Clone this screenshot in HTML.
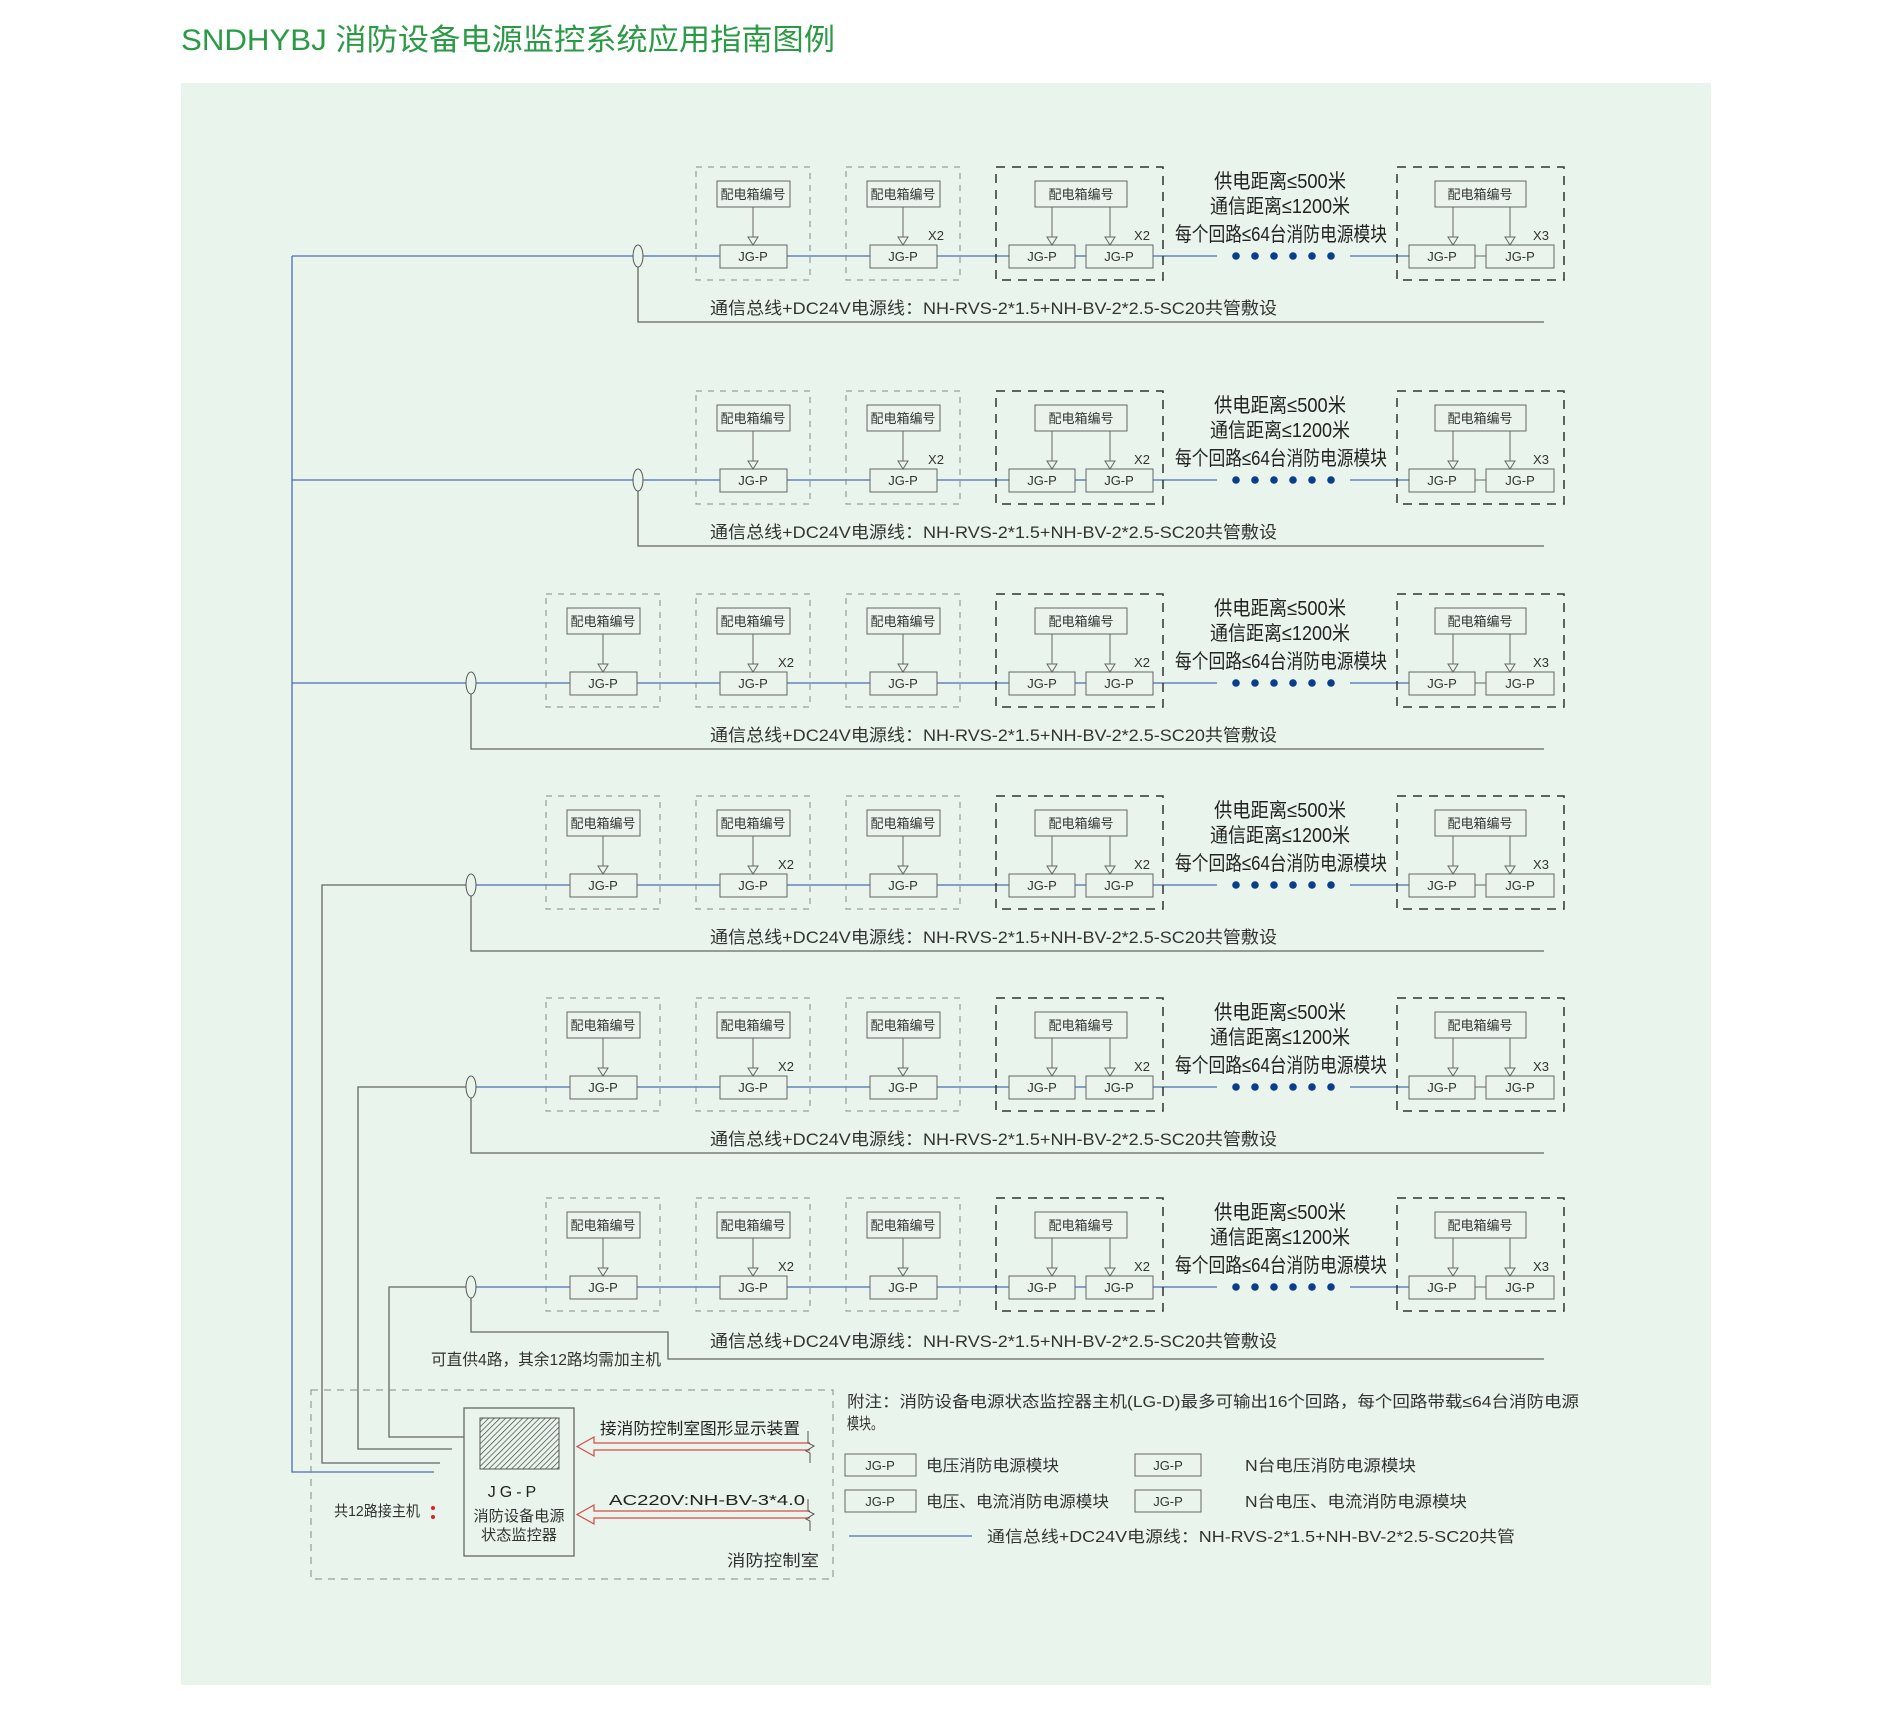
<!DOCTYPE html>
<html><head><meta charset="utf-8"><style>
html,body{margin:0;padding:0;background:#fff;}
svg{display:block;font-family:"Liberation Sans","Noto Sans CJK SC",sans-serif;}
</style></head><body>
<svg width="1891" height="1709" viewBox="0 0 1891 1709" xmlns="http://www.w3.org/2000/svg">
<rect width="1891" height="1709" fill="#fff"/>
<text x="181" y="50" font-size="30" fill="#2b9a45" textLength="654" lengthAdjust="spacingAndGlyphs">SNDHYBJ 消防设备电源监控系统应用指南图例</text>
<rect x="181" y="83" width="1530" height="1602" fill="#e9f4ec"/>

<g fill="none" stroke-width="1.3">
<path d="M292 256 V1472 H434" stroke="#4a6fb5"/>
<path d="M471 885 H322 V1463 H440" stroke="#666"/>
<path d="M471 1087 H358 V1449 H452" stroke="#666"/>
<path d="M471 1287 H389 V1437 H464" stroke="#666"/>
</g>

<g transform="translate(0,256)">
<line x1="292" y1="0" x2="1217" y2="0" stroke="#4a6fb5" stroke-width="1.3"/>
<line x1="1350" y1="0" x2="1409" y2="0" stroke="#4a6fb5" stroke-width="1.3"/>
<ellipse cx="638" cy="0" rx="5" ry="11" fill="#e9f4ec" stroke="#555"/>
<path d="M638 11 V66 H1544" fill="none" stroke="#666" stroke-width="1.3"/>
<text x="710" y="58" font-size="17" fill="#333" textLength="567" lengthAdjust="spacingAndGlyphs">通信总线+DC24V电源线：NH-RVS-2*1.5+NH-BV-2*2.5-SC20共管敷设</text>
<g stroke="#888" fill="none" stroke-dasharray="6,6"><rect x="696" y="-89" width="114" height="113"/><rect x="846" y="-89" width="114" height="113"/></g>
<g fill="#eaf3ec" stroke="#666"><rect x="717" y="-75" width="73" height="26"/><rect x="867" y="-75" width="73" height="26"/><rect x="720" y="-11" width="67" height="23"/><rect x="870" y="-11" width="67" height="23"/></g>
<g stroke="#666" fill="none"><path d="M753 -49V-19M748 -19H758L753 -11Z"/><path d="M903 -49V-19M898 -19H908L903 -11Z"/></g>
<g font-size="13" fill="#333" text-anchor="middle"><text x="753" y="-57">配电箱编号</text><text x="903" y="-57">配电箱编号</text><text x="753" y="5">JG-P</text><text x="903" y="5">JG-P</text><text x="936" y="-16">X2</text></g>
<g stroke="#333" fill="none" stroke-width="1.5" stroke-dasharray="9,7"><rect x="996" y="-89" width="167" height="113"/><rect x="1397" y="-89" width="167" height="113"/></g>
<g fill="#eaf3ec" stroke="#666"><rect x="1035" y="-75" width="92" height="26"/><rect x="1009" y="-11" width="66" height="23"/><rect x="1086" y="-11" width="67" height="23"/><rect x="1435" y="-75" width="91" height="26"/><rect x="1409" y="-11" width="66" height="23"/><rect x="1486" y="-11" width="68" height="23"/></g>
<g stroke="#666" fill="none"><path d="M1052 -49V-19M1047 -19H1057L1052 -11Z"/><path d="M1110 -49V-19M1105 -19H1115L1110 -11Z"/><path d="M1453 -49V-19M1448 -19H1458L1453 -11Z"/><path d="M1510 -49V-19M1505 -19H1515L1510 -11Z"/><path d="M1475 0H1486"/></g>
<g font-size="13" fill="#333" text-anchor="middle"><text x="1081" y="-57">配电箱编号</text><text x="1042" y="5">JG-P</text><text x="1119" y="5">JG-P</text><text x="1142" y="-16">X2</text><text x="1480" y="-57">配电箱编号</text><text x="1442" y="5">JG-P</text><text x="1520" y="5">JG-P</text><text x="1541" y="-16">X3</text></g>
<g font-size="20" fill="#222" text-anchor="middle"><text x="1280" y="-68" textLength="132" lengthAdjust="spacingAndGlyphs">供电距离≤500米</text><text x="1280" y="-43" textLength="140" lengthAdjust="spacingAndGlyphs">通信距离≤1200米</text><text x="1281" y="-15" textLength="212" lengthAdjust="spacingAndGlyphs">每个回路≤64台消防电源模块</text></g>
<g fill="#0b3d8c"><circle cx="1236" cy="0" r="3.8"/><circle cx="1255" cy="0" r="3.8"/><circle cx="1274" cy="0" r="3.8"/><circle cx="1293" cy="0" r="3.8"/><circle cx="1312" cy="0" r="3.8"/><circle cx="1331" cy="0" r="3.8"/></g>
</g>

<g transform="translate(0,480)">
<line x1="292" y1="0" x2="1217" y2="0" stroke="#4a6fb5" stroke-width="1.3"/>
<line x1="1350" y1="0" x2="1409" y2="0" stroke="#4a6fb5" stroke-width="1.3"/>
<ellipse cx="638" cy="0" rx="5" ry="11" fill="#e9f4ec" stroke="#555"/>
<path d="M638 11 V66 H1544" fill="none" stroke="#666" stroke-width="1.3"/>
<text x="710" y="58" font-size="17" fill="#333" textLength="567" lengthAdjust="spacingAndGlyphs">通信总线+DC24V电源线：NH-RVS-2*1.5+NH-BV-2*2.5-SC20共管敷设</text>
<g stroke="#888" fill="none" stroke-dasharray="6,6"><rect x="696" y="-89" width="114" height="113"/><rect x="846" y="-89" width="114" height="113"/></g>
<g fill="#eaf3ec" stroke="#666"><rect x="717" y="-75" width="73" height="26"/><rect x="867" y="-75" width="73" height="26"/><rect x="720" y="-11" width="67" height="23"/><rect x="870" y="-11" width="67" height="23"/></g>
<g stroke="#666" fill="none"><path d="M753 -49V-19M748 -19H758L753 -11Z"/><path d="M903 -49V-19M898 -19H908L903 -11Z"/></g>
<g font-size="13" fill="#333" text-anchor="middle"><text x="753" y="-57">配电箱编号</text><text x="903" y="-57">配电箱编号</text><text x="753" y="5">JG-P</text><text x="903" y="5">JG-P</text><text x="936" y="-16">X2</text></g>
<g stroke="#333" fill="none" stroke-width="1.5" stroke-dasharray="9,7"><rect x="996" y="-89" width="167" height="113"/><rect x="1397" y="-89" width="167" height="113"/></g>
<g fill="#eaf3ec" stroke="#666"><rect x="1035" y="-75" width="92" height="26"/><rect x="1009" y="-11" width="66" height="23"/><rect x="1086" y="-11" width="67" height="23"/><rect x="1435" y="-75" width="91" height="26"/><rect x="1409" y="-11" width="66" height="23"/><rect x="1486" y="-11" width="68" height="23"/></g>
<g stroke="#666" fill="none"><path d="M1052 -49V-19M1047 -19H1057L1052 -11Z"/><path d="M1110 -49V-19M1105 -19H1115L1110 -11Z"/><path d="M1453 -49V-19M1448 -19H1458L1453 -11Z"/><path d="M1510 -49V-19M1505 -19H1515L1510 -11Z"/><path d="M1475 0H1486"/></g>
<g font-size="13" fill="#333" text-anchor="middle"><text x="1081" y="-57">配电箱编号</text><text x="1042" y="5">JG-P</text><text x="1119" y="5">JG-P</text><text x="1142" y="-16">X2</text><text x="1480" y="-57">配电箱编号</text><text x="1442" y="5">JG-P</text><text x="1520" y="5">JG-P</text><text x="1541" y="-16">X3</text></g>
<g font-size="20" fill="#222" text-anchor="middle"><text x="1280" y="-68" textLength="132" lengthAdjust="spacingAndGlyphs">供电距离≤500米</text><text x="1280" y="-43" textLength="140" lengthAdjust="spacingAndGlyphs">通信距离≤1200米</text><text x="1281" y="-15" textLength="212" lengthAdjust="spacingAndGlyphs">每个回路≤64台消防电源模块</text></g>
<g fill="#0b3d8c"><circle cx="1236" cy="0" r="3.8"/><circle cx="1255" cy="0" r="3.8"/><circle cx="1274" cy="0" r="3.8"/><circle cx="1293" cy="0" r="3.8"/><circle cx="1312" cy="0" r="3.8"/><circle cx="1331" cy="0" r="3.8"/></g>
</g>

<g transform="translate(0,683)">
<line x1="292" y1="0" x2="1217" y2="0" stroke="#4a6fb5" stroke-width="1.3"/>
<line x1="1350" y1="0" x2="1409" y2="0" stroke="#4a6fb5" stroke-width="1.3"/>
<ellipse cx="471" cy="0" rx="5" ry="11" fill="#e9f4ec" stroke="#555"/>
<path d="M471 11 V66 H1544" fill="none" stroke="#666" stroke-width="1.3"/>
<text x="710" y="58" font-size="17" fill="#333" textLength="567" lengthAdjust="spacingAndGlyphs">通信总线+DC24V电源线：NH-RVS-2*1.5+NH-BV-2*2.5-SC20共管敷设</text>
<g stroke="#888" fill="none" stroke-dasharray="6,6"><rect x="546" y="-89" width="114" height="113"/><rect x="696" y="-89" width="114" height="113"/><rect x="846" y="-89" width="114" height="113"/></g>
<g fill="#eaf3ec" stroke="#666"><rect x="567" y="-75" width="73" height="26"/><rect x="717" y="-75" width="73" height="26"/><rect x="867" y="-75" width="73" height="26"/><rect x="570" y="-11" width="67" height="23"/><rect x="720" y="-11" width="67" height="23"/><rect x="870" y="-11" width="67" height="23"/></g>
<g stroke="#666" fill="none"><path d="M603 -49V-19M598 -19H608L603 -11Z"/><path d="M753 -49V-19M748 -19H758L753 -11Z"/><path d="M903 -49V-19M898 -19H908L903 -11Z"/></g>
<g font-size="13" fill="#333" text-anchor="middle"><text x="603" y="-57">配电箱编号</text><text x="753" y="-57">配电箱编号</text><text x="903" y="-57">配电箱编号</text><text x="603" y="5">JG-P</text><text x="753" y="5">JG-P</text><text x="903" y="5">JG-P</text><text x="786" y="-16">X2</text></g>
<g stroke="#333" fill="none" stroke-width="1.5" stroke-dasharray="9,7"><rect x="996" y="-89" width="167" height="113"/><rect x="1397" y="-89" width="167" height="113"/></g>
<g fill="#eaf3ec" stroke="#666"><rect x="1035" y="-75" width="92" height="26"/><rect x="1009" y="-11" width="66" height="23"/><rect x="1086" y="-11" width="67" height="23"/><rect x="1435" y="-75" width="91" height="26"/><rect x="1409" y="-11" width="66" height="23"/><rect x="1486" y="-11" width="68" height="23"/></g>
<g stroke="#666" fill="none"><path d="M1052 -49V-19M1047 -19H1057L1052 -11Z"/><path d="M1110 -49V-19M1105 -19H1115L1110 -11Z"/><path d="M1453 -49V-19M1448 -19H1458L1453 -11Z"/><path d="M1510 -49V-19M1505 -19H1515L1510 -11Z"/><path d="M1475 0H1486"/></g>
<g font-size="13" fill="#333" text-anchor="middle"><text x="1081" y="-57">配电箱编号</text><text x="1042" y="5">JG-P</text><text x="1119" y="5">JG-P</text><text x="1142" y="-16">X2</text><text x="1480" y="-57">配电箱编号</text><text x="1442" y="5">JG-P</text><text x="1520" y="5">JG-P</text><text x="1541" y="-16">X3</text></g>
<g font-size="20" fill="#222" text-anchor="middle"><text x="1280" y="-68" textLength="132" lengthAdjust="spacingAndGlyphs">供电距离≤500米</text><text x="1280" y="-43" textLength="140" lengthAdjust="spacingAndGlyphs">通信距离≤1200米</text><text x="1281" y="-15" textLength="212" lengthAdjust="spacingAndGlyphs">每个回路≤64台消防电源模块</text></g>
<g fill="#0b3d8c"><circle cx="1236" cy="0" r="3.8"/><circle cx="1255" cy="0" r="3.8"/><circle cx="1274" cy="0" r="3.8"/><circle cx="1293" cy="0" r="3.8"/><circle cx="1312" cy="0" r="3.8"/><circle cx="1331" cy="0" r="3.8"/></g>
</g>

<g transform="translate(0,885)">
<line x1="471" y1="0" x2="1217" y2="0" stroke="#4a6fb5" stroke-width="1.3"/>
<line x1="1350" y1="0" x2="1409" y2="0" stroke="#4a6fb5" stroke-width="1.3"/>
<ellipse cx="471" cy="0" rx="5" ry="11" fill="#e9f4ec" stroke="#555"/>
<path d="M471 11 V66 H1544" fill="none" stroke="#666" stroke-width="1.3"/>
<text x="710" y="58" font-size="17" fill="#333" textLength="567" lengthAdjust="spacingAndGlyphs">通信总线+DC24V电源线：NH-RVS-2*1.5+NH-BV-2*2.5-SC20共管敷设</text>
<g stroke="#888" fill="none" stroke-dasharray="6,6"><rect x="546" y="-89" width="114" height="113"/><rect x="696" y="-89" width="114" height="113"/><rect x="846" y="-89" width="114" height="113"/></g>
<g fill="#eaf3ec" stroke="#666"><rect x="567" y="-75" width="73" height="26"/><rect x="717" y="-75" width="73" height="26"/><rect x="867" y="-75" width="73" height="26"/><rect x="570" y="-11" width="67" height="23"/><rect x="720" y="-11" width="67" height="23"/><rect x="870" y="-11" width="67" height="23"/></g>
<g stroke="#666" fill="none"><path d="M603 -49V-19M598 -19H608L603 -11Z"/><path d="M753 -49V-19M748 -19H758L753 -11Z"/><path d="M903 -49V-19M898 -19H908L903 -11Z"/></g>
<g font-size="13" fill="#333" text-anchor="middle"><text x="603" y="-57">配电箱编号</text><text x="753" y="-57">配电箱编号</text><text x="903" y="-57">配电箱编号</text><text x="603" y="5">JG-P</text><text x="753" y="5">JG-P</text><text x="903" y="5">JG-P</text><text x="786" y="-16">X2</text></g>
<g stroke="#333" fill="none" stroke-width="1.5" stroke-dasharray="9,7"><rect x="996" y="-89" width="167" height="113"/><rect x="1397" y="-89" width="167" height="113"/></g>
<g fill="#eaf3ec" stroke="#666"><rect x="1035" y="-75" width="92" height="26"/><rect x="1009" y="-11" width="66" height="23"/><rect x="1086" y="-11" width="67" height="23"/><rect x="1435" y="-75" width="91" height="26"/><rect x="1409" y="-11" width="66" height="23"/><rect x="1486" y="-11" width="68" height="23"/></g>
<g stroke="#666" fill="none"><path d="M1052 -49V-19M1047 -19H1057L1052 -11Z"/><path d="M1110 -49V-19M1105 -19H1115L1110 -11Z"/><path d="M1453 -49V-19M1448 -19H1458L1453 -11Z"/><path d="M1510 -49V-19M1505 -19H1515L1510 -11Z"/><path d="M1475 0H1486"/></g>
<g font-size="13" fill="#333" text-anchor="middle"><text x="1081" y="-57">配电箱编号</text><text x="1042" y="5">JG-P</text><text x="1119" y="5">JG-P</text><text x="1142" y="-16">X2</text><text x="1480" y="-57">配电箱编号</text><text x="1442" y="5">JG-P</text><text x="1520" y="5">JG-P</text><text x="1541" y="-16">X3</text></g>
<g font-size="20" fill="#222" text-anchor="middle"><text x="1280" y="-68" textLength="132" lengthAdjust="spacingAndGlyphs">供电距离≤500米</text><text x="1280" y="-43" textLength="140" lengthAdjust="spacingAndGlyphs">通信距离≤1200米</text><text x="1281" y="-15" textLength="212" lengthAdjust="spacingAndGlyphs">每个回路≤64台消防电源模块</text></g>
<g fill="#0b3d8c"><circle cx="1236" cy="0" r="3.8"/><circle cx="1255" cy="0" r="3.8"/><circle cx="1274" cy="0" r="3.8"/><circle cx="1293" cy="0" r="3.8"/><circle cx="1312" cy="0" r="3.8"/><circle cx="1331" cy="0" r="3.8"/></g>
</g>

<g transform="translate(0,1087)">
<line x1="471" y1="0" x2="1217" y2="0" stroke="#4a6fb5" stroke-width="1.3"/>
<line x1="1350" y1="0" x2="1409" y2="0" stroke="#4a6fb5" stroke-width="1.3"/>
<ellipse cx="471" cy="0" rx="5" ry="11" fill="#e9f4ec" stroke="#555"/>
<path d="M471 11 V66 H1544" fill="none" stroke="#666" stroke-width="1.3"/>
<text x="710" y="58" font-size="17" fill="#333" textLength="567" lengthAdjust="spacingAndGlyphs">通信总线+DC24V电源线：NH-RVS-2*1.5+NH-BV-2*2.5-SC20共管敷设</text>
<g stroke="#888" fill="none" stroke-dasharray="6,6"><rect x="546" y="-89" width="114" height="113"/><rect x="696" y="-89" width="114" height="113"/><rect x="846" y="-89" width="114" height="113"/></g>
<g fill="#eaf3ec" stroke="#666"><rect x="567" y="-75" width="73" height="26"/><rect x="717" y="-75" width="73" height="26"/><rect x="867" y="-75" width="73" height="26"/><rect x="570" y="-11" width="67" height="23"/><rect x="720" y="-11" width="67" height="23"/><rect x="870" y="-11" width="67" height="23"/></g>
<g stroke="#666" fill="none"><path d="M603 -49V-19M598 -19H608L603 -11Z"/><path d="M753 -49V-19M748 -19H758L753 -11Z"/><path d="M903 -49V-19M898 -19H908L903 -11Z"/></g>
<g font-size="13" fill="#333" text-anchor="middle"><text x="603" y="-57">配电箱编号</text><text x="753" y="-57">配电箱编号</text><text x="903" y="-57">配电箱编号</text><text x="603" y="5">JG-P</text><text x="753" y="5">JG-P</text><text x="903" y="5">JG-P</text><text x="786" y="-16">X2</text></g>
<g stroke="#333" fill="none" stroke-width="1.5" stroke-dasharray="9,7"><rect x="996" y="-89" width="167" height="113"/><rect x="1397" y="-89" width="167" height="113"/></g>
<g fill="#eaf3ec" stroke="#666"><rect x="1035" y="-75" width="92" height="26"/><rect x="1009" y="-11" width="66" height="23"/><rect x="1086" y="-11" width="67" height="23"/><rect x="1435" y="-75" width="91" height="26"/><rect x="1409" y="-11" width="66" height="23"/><rect x="1486" y="-11" width="68" height="23"/></g>
<g stroke="#666" fill="none"><path d="M1052 -49V-19M1047 -19H1057L1052 -11Z"/><path d="M1110 -49V-19M1105 -19H1115L1110 -11Z"/><path d="M1453 -49V-19M1448 -19H1458L1453 -11Z"/><path d="M1510 -49V-19M1505 -19H1515L1510 -11Z"/><path d="M1475 0H1486"/></g>
<g font-size="13" fill="#333" text-anchor="middle"><text x="1081" y="-57">配电箱编号</text><text x="1042" y="5">JG-P</text><text x="1119" y="5">JG-P</text><text x="1142" y="-16">X2</text><text x="1480" y="-57">配电箱编号</text><text x="1442" y="5">JG-P</text><text x="1520" y="5">JG-P</text><text x="1541" y="-16">X3</text></g>
<g font-size="20" fill="#222" text-anchor="middle"><text x="1280" y="-68" textLength="132" lengthAdjust="spacingAndGlyphs">供电距离≤500米</text><text x="1280" y="-43" textLength="140" lengthAdjust="spacingAndGlyphs">通信距离≤1200米</text><text x="1281" y="-15" textLength="212" lengthAdjust="spacingAndGlyphs">每个回路≤64台消防电源模块</text></g>
<g fill="#0b3d8c"><circle cx="1236" cy="0" r="3.8"/><circle cx="1255" cy="0" r="3.8"/><circle cx="1274" cy="0" r="3.8"/><circle cx="1293" cy="0" r="3.8"/><circle cx="1312" cy="0" r="3.8"/><circle cx="1331" cy="0" r="3.8"/></g>
</g>

<g transform="translate(0,1287)">
<line x1="471" y1="0" x2="1217" y2="0" stroke="#4a6fb5" stroke-width="1.3"/>
<line x1="1350" y1="0" x2="1409" y2="0" stroke="#4a6fb5" stroke-width="1.3"/>
<ellipse cx="471" cy="0" rx="5" ry="11" fill="#e9f4ec" stroke="#555"/>
<path d="M471 11 V45 H668 V72 H1544" fill="none" stroke="#666" stroke-width="1.3"/>
<text x="710" y="60" font-size="17" fill="#333" textLength="567" lengthAdjust="spacingAndGlyphs">通信总线+DC24V电源线：NH-RVS-2*1.5+NH-BV-2*2.5-SC20共管敷设</text>
<g stroke="#888" fill="none" stroke-dasharray="6,6"><rect x="546" y="-89" width="114" height="113"/><rect x="696" y="-89" width="114" height="113"/><rect x="846" y="-89" width="114" height="113"/></g>
<g fill="#eaf3ec" stroke="#666"><rect x="567" y="-75" width="73" height="26"/><rect x="717" y="-75" width="73" height="26"/><rect x="867" y="-75" width="73" height="26"/><rect x="570" y="-11" width="67" height="23"/><rect x="720" y="-11" width="67" height="23"/><rect x="870" y="-11" width="67" height="23"/></g>
<g stroke="#666" fill="none"><path d="M603 -49V-19M598 -19H608L603 -11Z"/><path d="M753 -49V-19M748 -19H758L753 -11Z"/><path d="M903 -49V-19M898 -19H908L903 -11Z"/></g>
<g font-size="13" fill="#333" text-anchor="middle"><text x="603" y="-57">配电箱编号</text><text x="753" y="-57">配电箱编号</text><text x="903" y="-57">配电箱编号</text><text x="603" y="5">JG-P</text><text x="753" y="5">JG-P</text><text x="903" y="5">JG-P</text><text x="786" y="-16">X2</text></g>
<g stroke="#333" fill="none" stroke-width="1.5" stroke-dasharray="9,7"><rect x="996" y="-89" width="167" height="113"/><rect x="1397" y="-89" width="167" height="113"/></g>
<g fill="#eaf3ec" stroke="#666"><rect x="1035" y="-75" width="92" height="26"/><rect x="1009" y="-11" width="66" height="23"/><rect x="1086" y="-11" width="67" height="23"/><rect x="1435" y="-75" width="91" height="26"/><rect x="1409" y="-11" width="66" height="23"/><rect x="1486" y="-11" width="68" height="23"/></g>
<g stroke="#666" fill="none"><path d="M1052 -49V-19M1047 -19H1057L1052 -11Z"/><path d="M1110 -49V-19M1105 -19H1115L1110 -11Z"/><path d="M1453 -49V-19M1448 -19H1458L1453 -11Z"/><path d="M1510 -49V-19M1505 -19H1515L1510 -11Z"/><path d="M1475 0H1486"/></g>
<g font-size="13" fill="#333" text-anchor="middle"><text x="1081" y="-57">配电箱编号</text><text x="1042" y="5">JG-P</text><text x="1119" y="5">JG-P</text><text x="1142" y="-16">X2</text><text x="1480" y="-57">配电箱编号</text><text x="1442" y="5">JG-P</text><text x="1520" y="5">JG-P</text><text x="1541" y="-16">X3</text></g>
<g font-size="20" fill="#222" text-anchor="middle"><text x="1280" y="-68" textLength="132" lengthAdjust="spacingAndGlyphs">供电距离≤500米</text><text x="1280" y="-43" textLength="140" lengthAdjust="spacingAndGlyphs">通信距离≤1200米</text><text x="1281" y="-15" textLength="212" lengthAdjust="spacingAndGlyphs">每个回路≤64台消防电源模块</text></g>
<g fill="#0b3d8c"><circle cx="1236" cy="0" r="3.8"/><circle cx="1255" cy="0" r="3.8"/><circle cx="1274" cy="0" r="3.8"/><circle cx="1293" cy="0" r="3.8"/><circle cx="1312" cy="0" r="3.8"/><circle cx="1331" cy="0" r="3.8"/></g>
</g>

<text x="431" y="1365" font-size="16" fill="#333" textLength="230" lengthAdjust="spacingAndGlyphs">可直供4路，其余12路均需加主机</text>
<rect x="311" y="1390" width="522" height="189" fill="none" stroke="#888" stroke-dasharray="7,6"/>
<defs><pattern id="h" width="4" height="4" patternUnits="userSpaceOnUse" patternTransform="rotate(45)"><rect width="4" height="4" fill="#e9f4ec"/><line x1="0" y1="0" x2="0" y2="4" stroke="#444" stroke-width="1.4"/></pattern></defs>
<rect x="464" y="1408" width="110" height="148" fill="#e9f4ec" stroke="#666" stroke-width="1.3"/>
<rect x="480" y="1418" width="79" height="51" fill="url(#h)" stroke="#555"/>
<text x="514" y="1497" font-size="16" fill="#222" text-anchor="middle" letter-spacing="4">JG-P</text>
<text x="519" y="1521" font-size="15" fill="#333" text-anchor="middle" textLength="91" lengthAdjust="spacingAndGlyphs">消防设备电源</text>
<text x="519" y="1540" font-size="15" fill="#333" text-anchor="middle" textLength="76" lengthAdjust="spacingAndGlyphs">状态监控器</text>
<text x="334" y="1516" font-size="15" fill="#333" textLength="86" lengthAdjust="spacingAndGlyphs">共12路接主机</text>
<circle cx="433" cy="1508" r="2" fill="#e02020"/><circle cx="433" cy="1517" r="2" fill="#e02020"/>
<g fill="none" stroke="#d84a4a" stroke-width="1.2">
<path d="M810 1443H594V1437L577 1446.5L594 1456V1450H810"/>
<path d="M810 1511H594V1505L577 1514.5L594 1524V1518H810"/>
</g>
<g fill="none" stroke="#555"><path d="M808 1431V1443L814 1446L806 1451L810 1453V1463"/><path d="M808 1499V1511L814 1514L806 1519L810 1521V1531"/></g>
<text x="600" y="1434" font-size="16" fill="#222" textLength="200" lengthAdjust="spacingAndGlyphs">接消防控制室图形显示装置</text>
<text x="609" y="1505" font-size="15" fill="#222" textLength="196" lengthAdjust="spacingAndGlyphs">AC220V:NH-BV-3*4.0</text>
<text x="727" y="1566" font-size="16" fill="#333" textLength="92" lengthAdjust="spacingAndGlyphs">消防控制室</text>

<g font-size="16" fill="#333">
<text x="847" y="1407" textLength="732" lengthAdjust="spacingAndGlyphs">附注：消防设备电源状态监控器主机(LG-D)最多可输出16个回路，每个回路带载≤64台消防电源</text>
<text x="847" y="1429" textLength="36" lengthAdjust="spacingAndGlyphs">模块。</text>
</g>
<g fill="#e9f4ec" stroke="#666"><rect x="845" y="1454" width="71" height="22"/><rect x="1135" y="1454" width="66" height="22"/><rect x="845" y="1490" width="71" height="22"/><rect x="1135" y="1490" width="66" height="22"/></g>
<g font-size="13" fill="#333" text-anchor="middle"><text x="880" y="1470">JG-P</text><text x="1168" y="1470">JG-P</text><text x="880" y="1506">JG-P</text><text x="1168" y="1506">JG-P</text></g>
<g font-size="16" fill="#333">
<text x="926" y="1471" textLength="133" lengthAdjust="spacingAndGlyphs">电压消防电源模块</text>
<text x="1245" y="1471" textLength="171" lengthAdjust="spacingAndGlyphs">N台电压消防电源模块</text>
<text x="926" y="1507" textLength="183" lengthAdjust="spacingAndGlyphs">电压、电流消防电源模块</text>
<text x="1245" y="1507" textLength="222" lengthAdjust="spacingAndGlyphs">N台电压、电流消防电源模块</text>
<text x="987" y="1542" textLength="528" lengthAdjust="spacingAndGlyphs">通信总线+DC24V电源线：NH-RVS-2*1.5+NH-BV-2*2.5-SC20共管</text>
</g>
<line x1="849" y1="1536" x2="972" y2="1536" stroke="#4a6fb5" stroke-width="1.3"/>
</svg>
</body></html>
